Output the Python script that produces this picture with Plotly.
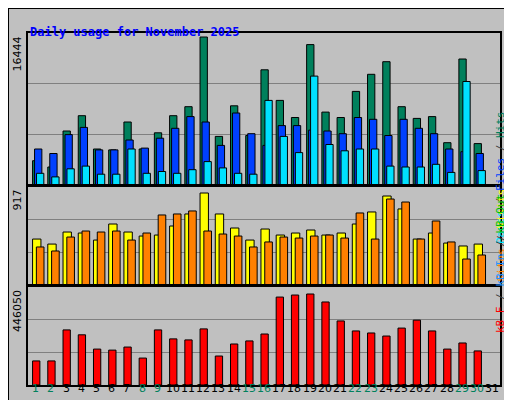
import plotly.graph_objects as go
from plotly.subplots import make_subplots

days = list(range(1, 32))
weekend = [1, 2, 8, 9, 15, 16, 22, 23, 29, 30]

# values (30 days with data)
hits = [2700, 2000, 6000, 7700, 4000, 3900, 7000, 4000, 5800, 7700, 8700, 16444, 5400, 8800, 5500,
        12800, 9400, 7500, 15600, 8100, 7500, 10400, 12300, 13700, 8700, 7400, 7600, 4700, 14000, 4600]
files = [4000, 3500, 5600, 6400, 3900, 3900, 5000, 4100, 5200, 6300, 7600, 7000, 4400, 8000, 5700,
         4400, 6600, 6600, 6100, 6000, 5700, 7500, 7300, 5500, 7300, 6300, 5700, 4000, 3700, 3500]
pages = [1300, 900, 1800, 2100, 1200, 1200, 4000, 1300, 1500, 1300, 1700, 2600, 1900, 1300, 1200,
         9400, 5400, 3600, 12100, 4500, 3800, 4000, 4000, 2100, 2000, 2000, 2300, 1400, 11500, 1600]
visits = [458, 408, 528, 518, 448, 608, 528, 488, 498, 588, 708, 917, 708, 568, 448,
          558, 498, 518, 548, 498, 518, 608, 728, 887, 758, 458, 518, 418, 389, 408]
sites = [379, 339, 478, 538, 528, 538, 448, 518, 698, 708, 738, 538, 508, 488, 379,
         429, 478, 468, 488, 498, 468, 718, 458, 857, 827, 458, 638, 429, 259, 299]
kbytes = [118000, 118000, 270000, 246000, 176000, 171000, 186000, 132000, 270000, 226000,
          221000, 275000, 142000, 201000, 216000, 250000, 431000, 441000, 446050, 407000,
          314000, 265000, 255000, 240000, 279000, 318000, 265000, 176000, 206000, 167000]

grey = '#c0c0c0'
title_blue = '#0000ff'
c_hits, c_files, c_pages = '#00805c', '#0040ff', '#00e0ff'
c_visits, c_sites = '#ffff00', '#ff8000'
c_kb = '#ff0000'
wk_green = '#00805c'


def ydom(top, bottom):
    return [1 - bottom / 400, 1 - top / 400]


fig = make_subplots(rows=3, cols=1, shared_xaxes=True)
dx = days[:len(hits)]
line = dict(color='black', width=1)

fig.add_trace(go.Bar(x=dx, y=hits, width=0.48, offset=-0.2, marker=dict(color=c_hits, line=line)), row=1, col=1)
fig.add_trace(go.Bar(x=dx, y=files, width=0.48, offset=-0.07, marker=dict(color=c_files, line=line)), row=1, col=1)
fig.add_trace(go.Bar(x=dx, y=pages, width=0.48, offset=0.06, marker=dict(color=c_pages, line=line)), row=1, col=1)
fig.add_trace(go.Bar(x=dx, y=visits, width=0.55, offset=-0.2, marker=dict(color=c_visits, line=line)), row=2, col=1)
fig.add_trace(go.Bar(x=dx, y=sites, width=0.5, offset=0.05, marker=dict(color=c_sites, line=line)), row=2, col=1)
fig.add_trace(go.Bar(x=dx, y=kbytes, width=0.48, offset=-0.2, marker=dict(color=c_kb, line=line)), row=3, col=1)

fig.update_layout(
    width=512, height=400, margin=dict(l=0, r=0, t=0, b=0),
    paper_bgcolor=grey, plot_bgcolor=grey, showlegend=False, barmode='overlay',
    font=dict(family='DejaVu Sans Mono', size=11, color='black'),
)
xdom = [20 / 512, 492 / 512]
for i, (dom, top) in enumerate([(ydom(25, 177), max(hits) * 152 / 148),
                                (ydom(178, 277), max(visits) * 99 / 92),
                                (ydom(278, 377), max(kbytes) * 99 / 91)], start=1):
    fig.update_yaxes(row=i, col=1, domain=dom, range=[0, top], tickvals=[top / 3, 2 * top / 3],
                     showticklabels=False, showgrid=True, gridcolor='#808080', gridwidth=1, automargin=False,
                     zeroline=False, showline=True, linecolor='black', linewidth=2, mirror=True)
    fig.update_xaxes(row=i, col=1, domain=xdom, range=[0.5, 31.5], showgrid=False, zeroline=False,
                     showline=True, linecolor='black', linewidth=2, mirror=True, ticks='',
                     showticklabels=False, automargin=False)

# day labels
for d in days:
    fig.add_annotation(x=d, y=1 - 389 / 400, xref='x3', yref='paper', text=str(d), showarrow=False,
                       font=dict(size=11, family='DejaVu Sans', color=wk_green if d in weekend else 'black'))

# title and labels
fig.add_annotation(x=20 / 512, y=1 - 15 / 400, xref='paper', yref='paper', text='<b>Daily usage for November 2025</b>',
                   showarrow=False, xanchor='left', font=dict(color=title_blue, size=12))
for txt, ytop in [('16444', 25), ('917', 178), ('446050', 278)]:
    fig.add_annotation(x=9 / 512, y=1 - (ytop + 2) / 400, xref='paper', yref='paper', text=txt, textangle=-90,
                       showarrow=False, xanchor='center', yanchor='top', font=dict(size=11, family='DejaVu Sans'))


def legend(parts):
    return "<span style='color:#404040'> / </span>".join(
        "<span style='color:%s'>%s</span>" % (c, t) for t, c in parts)


for parts, mid in [([('Pages', c_pages), ('Files', c_files), ('Hits', c_hits)], 101),
                   ([('Sites', c_sites), ('Visits', c_visits)], 227),
                   ([('kB F', c_kb), ('kB In', '#1e90ff'), ('kB Out', '#00c000')], 327)]:
    fig.add_annotation(x=501 / 512, y=1 - mid / 400, xref='paper', yref='paper', text=legend(parts),
                       textangle=-90, showarrow=False, font=dict(size=11))

# outer 3d frame
fig.add_shape(type='rect', xref='paper', yref='paper', x0=0, y0=0, x1=1, y1=1,
              line=dict(color='black', width=2))
fig.add_shape(type='line', xref='paper', yref='paper', x0=2 / 512, y0=2 / 400, x1=508 / 512, y1=2 / 400,
              line=dict(color='#808080', width=4))
fig.add_shape(type='line', xref='paper', yref='paper', x0=508 / 512, y0=2 / 400, x1=508 / 512, y1=398 / 400,
              line=dict(color='#808080', width=4))

fig.write_html("out.html")
